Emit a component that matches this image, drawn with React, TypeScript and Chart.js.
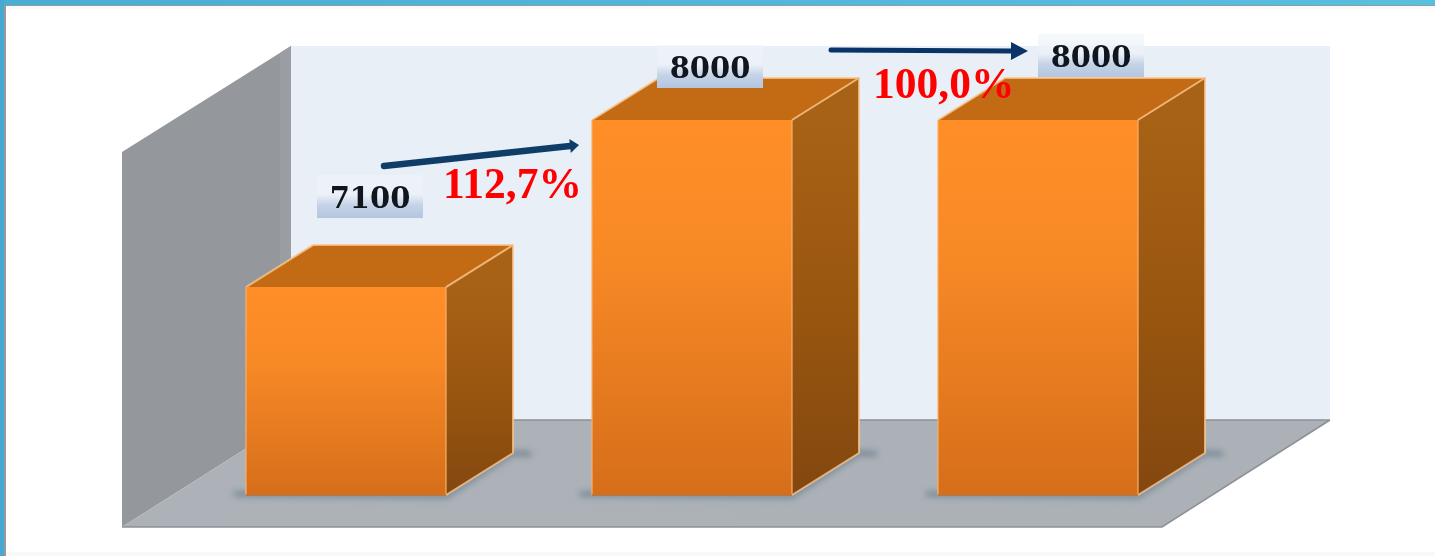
import React, { useEffect, useRef } from "react";
import { Chart, registerables } from "chart.js";

Chart.register(...registerables);

const categories = ["A", "B", "C"];
const values = [7100, 8000, 8000];
const growthLabels = ["112,7%", "100,0%"];
const axisMin = 5980;
const axisMax = 8000;

const WIDTH = 1435;
const HEIGHT = 556;
const DEPTH_X = 67;
const DEPTH_Y = 42;
const labelShift = [
  { dx: 24, dy: -90 },
  { dx: 18, dy: -53 },
  { dx: 53, dy: -64 },
];

function poly(ctx: CanvasRenderingContext2D, pts: number[][], fill: any, stroke?: string, lw = 1) {
  ctx.beginPath();
  pts.forEach((p, i) => (i ? ctx.lineTo(p[0], p[1]) : ctx.moveTo(p[0], p[1])));
  ctx.closePath();
  ctx.fillStyle = fill;
  ctx.fill();
  if (stroke) {
    ctx.strokeStyle = stroke;
    ctx.lineWidth = lw;
    ctx.stroke();
  }
}

function vGrad(ctx: CanvasRenderingContext2D, y0: number, y1: number, stops: [number, string][]) {
  const g = ctx.createLinearGradient(0, y0, 0, y1);
  stops.forEach(([o, c]) => g.addColorStop(o, c));
  return g;
}

function arrow(
  ctx: CanvasRenderingContext2D,
  x0: number, y0: number, x1: number, y1: number,
  lw: number, headLen: number, headHalf: number, color: string
) {
  const a = Math.atan2(y1 - y0, x1 - x0);
  const bx = x1 - headLen * Math.cos(a);
  const by = y1 - headLen * Math.sin(a);
  ctx.strokeStyle = color;
  ctx.lineWidth = lw;
  ctx.lineCap = "round";
  ctx.beginPath();
  ctx.moveTo(x0, y0);
  ctx.lineTo(bx, by);
  ctx.stroke();
  ctx.lineCap = "butt";
  const nx = -Math.sin(a) * headHalf;
  const ny = Math.cos(a) * headHalf;
  poly(ctx, [[x1, y1], [bx + nx, by + ny], [bx - nx, by - ny]], color);
}

const scenePlugin = {
  id: "scene",
  beforeDraw(chart: any) {
    const ctx: CanvasRenderingContext2D = chart.ctx;
    ctx.save();
    ctx.fillStyle = "#ffffff";
    ctx.fillRect(0, 0, WIDTH, HEIGHT);
    // frame
    ctx.fillStyle = "#f9f9f9";
    ctx.fillRect(5, 6, WIDTH, 3);
    ctx.fillRect(5, 552, WIDTH, 4);
    const band = ctx.createLinearGradient(0, 0, WIDTH, 0);
    band.addColorStop(0, "#47aed5");
    band.addColorStop(1, "#56c0e1");
    ctx.fillStyle = band;
    ctx.fillRect(0, 0, WIDTH, 5);
    ctx.fillStyle = "#45a9d2";
    ctx.fillRect(0, 0, 4, HEIGHT);
    ctx.fillStyle = "#9a9a9a";
    ctx.fillRect(4, 5, WIDTH, 1);
    ctx.fillRect(4, 5, 2, HEIGHT);
    ctx.restore();
  },
  beforeDatasetsDraw(chart: any) {
    const ctx: CanvasRenderingContext2D = chart.ctx;
    const bars = chart.getDatasetMeta(0).data;
    ctx.save();
    // back wall
    poly(ctx, [[291, 46], [1330, 46], [1330, 420], [291, 420]], "#e9eff6");
    // left wall
    poly(ctx, [[122, 152], [291, 46], [291, 420], [122, 527]], "#94979c");
    poly(ctx, [[280, 53], [291, 46], [291, 420], [280, 427]], "#9a9da2");
    // floor
    const floor = ctx.createLinearGradient(122, 0, 1330, 0);
    floor.addColorStop(0, "#adb2b8");
    floor.addColorStop(1, "#abb1b7");
    poly(ctx, [[122, 527], [1162, 527], [1330, 420], [291, 420]], floor);
    ctx.strokeStyle = "#8d9196";
    ctx.lineWidth = 1.5;
    ctx.beginPath();
    ctx.moveTo(291, 420);
    ctx.lineTo(1330, 420);
    ctx.moveTo(122, 527);
    ctx.lineTo(1162, 527);
    ctx.lineTo(1330, 420);
    ctx.stroke();

    bars.forEach((bar: any) => {
      const left = bar.x - bar.width / 2;
      const right = bar.x + bar.width / 2;
      const top = bar.y;
      const base = bar.base;
      // ground shadow
      ctx.save();
      (ctx as any).filter = "blur(3px)";
      ctx.strokeStyle = "rgba(105,125,140,0.85)";
      ctx.lineWidth = 5;
      ctx.beginPath();
      ctx.moveTo(left - 12, base - 1);
      ctx.lineTo(right, base + 1);
      ctx.lineTo(right + DEPTH_X, base - DEPTH_Y);
      ctx.lineTo(right + DEPTH_X + 18, base - DEPTH_Y + 1);
      ctx.stroke();
      ctx.restore();
      // side face
      poly(ctx,
        [[right, top], [right + DEPTH_X, top - DEPTH_Y], [right + DEPTH_X, base - DEPTH_Y], [right, base]],
        vGrad(ctx, top, base, [[0, "#a86216"], [0.5, "#99560f"], [1, "#83470f"]]));
      // top face
      poly(ctx,
        [[left, top], [left + DEPTH_X, top - DEPTH_Y], [right + DEPTH_X, top - DEPTH_Y], [right, top]],
        "#c26b14");
      // light edges
      ctx.strokeStyle = "rgba(250,196,140,0.8)";
      ctx.lineWidth = 2;
      ctx.beginPath();
      ctx.moveTo(left, top);
      ctx.lineTo(left + DEPTH_X, top - DEPTH_Y);
      ctx.lineTo(right + DEPTH_X, top - DEPTH_Y);
      ctx.lineTo(right + DEPTH_X, base - DEPTH_Y);
      ctx.lineTo(right, base);
      ctx.moveTo(right, top);
      ctx.lineTo(right + DEPTH_X, top - DEPTH_Y);
      ctx.stroke();
    });
    ctx.restore();
  },
  afterDatasetsDraw(chart: any) {
    const ctx: CanvasRenderingContext2D = chart.ctx;
    const bars = chart.getDatasetMeta(0).data;
    ctx.save();
    // front face edges
    bars.forEach((bar: any) => {
      const left = bar.x - bar.width / 2;
      const right = bar.x + bar.width / 2;
      ctx.strokeStyle = "rgba(250,175,105,0.6)";
      ctx.lineWidth = 2;
      ctx.beginPath();
      ctx.moveTo(left, bar.base);
      ctx.lineTo(left, bar.y);
      ctx.moveTo(right, bar.y);
      ctx.lineTo(right, bar.base);
      ctx.stroke();
      ctx.strokeStyle = "rgba(190,115,60,0.9)";
      ctx.beginPath();
      ctx.moveTo(left, bar.base);
      ctx.lineTo(right, bar.base);
      ctx.stroke();
    });
    // value labels
    bars.forEach((bar: any, i: number) => {
      const cx = bar.x + labelShift[i].dx;
      const cy = bar.y + labelShift[i].dy;
      const g = vGrad(ctx, cy - 22, cy + 21, [
        [0, "rgba(240,245,250,0.6)"],
        [0.45, "rgba(236,241,248,0.95)"],
        [0.7, "#c4d3e7"],
        [1, "#b3c6e0"],
      ]);
      ctx.fillStyle = g;
      ctx.fillRect(cx - 53, cy - 22, 106, 43);
      ctx.fillStyle = "#11151d";
      ctx.font = 'bold 29px "DejaVu Serif"';
      ctx.textAlign = "center";
      ctx.textBaseline = "middle";
      ctx.fillText(String(values[i]), cx, cy + 3);
    });
    // growth arrows and percentages
    const b1 = bars[1];
    const b2 = bars[2];
    const leftOf = (b: any) => b.x - b.width / 2;
    arrow(ctx, leftOf(b1) - 208, b1.y + 46, leftOf(b1) - 13, b1.y + 25, 6.5, 9, 7, "#0f3d68");
    arrow(ctx, leftOf(b2) - 107, 50, leftOf(b2) + 90, 51, 5, 17, 9, "#0a3467");
    ctx.fillStyle = "#ff0000";
    ctx.font = 'bold 43.5px "Liberation Serif"';
    ctx.textAlign = "left";
    ctx.textBaseline = "alphabetic";
    ctx.fillText(growthLabels[0], leftOf(b1) - 149, b1.y + 78);
    ctx.fillText(growthLabels[1], leftOf(b2) - 65, b2.y - 22);
    ctx.restore();
  },
};

export default function App() {
  const ref = useRef<HTMLCanvasElement>(null);
  useEffect(() => {
    if (!ref.current) return;
    const chart = new Chart(ref.current, {
      type: "bar",
      data: {
        labels: categories,
        datasets: [
          {
            data: values,
            base: axisMin,
            backgroundColor: (c: any) => {
              const ch = c.chart;
              if (!ch.chartArea || c.raw === undefined) return "#ff8c26";
              const top = ch.scales.y.getPixelForValue(c.raw);
              const base = ch.scales.y.getPixelForValue(axisMin);
              const g = ch.ctx.createLinearGradient(0, top, 0, base);
              g.addColorStop(0, "#ff8e27");
              g.addColorStop(0.35, "#f88a26");
              g.addColorStop(1, "#d66e1a");
              return g;
            },
            borderWidth: 0,
            barPercentage: 0.578,
            categoryPercentage: 1,
          },
        ],
      },
      options: {
        responsive: false,
        animation: false,
        layout: { padding: { left: 173, right: 224, top: 120, bottom: 61 } },
        plugins: { legend: { display: false }, tooltip: { enabled: false }, title: { display: false } },
        scales: {
          x: { display: false },
          y: { display: false, min: axisMin, max: axisMax },
        },
      },
      plugins: [scenePlugin],
    } as any);
    return () => chart.destroy();
  }, []);
  return (
    <canvas
      ref={ref}
      width={WIDTH}
      height={HEIGHT}
      style={{ position: "fixed", left: 0, top: 0, display: "block" }}
    />
  );
}
